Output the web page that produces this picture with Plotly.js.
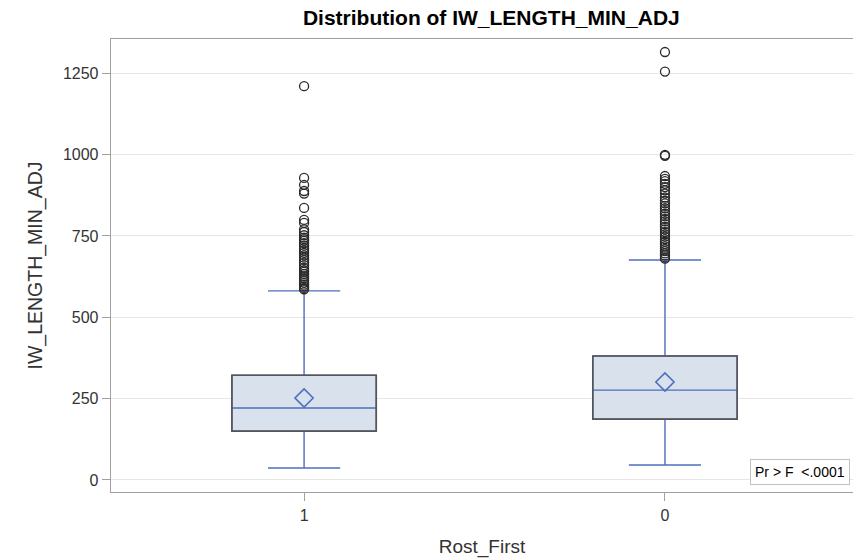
<!DOCTYPE html>
<html>
<head>
<meta charset="utf-8">
<script src="https://cdn.plot.ly/plotly-3.0.1.min.js"></script>
<style>html,body{margin:0;padding:0;background:#fff;}#chart{width:853px;height:558px;}</style>
</head>
<body>
<div id="chart"></div>
<script>
// Data
var categories = ['1', '0'];
var q1Values = [150, 187];
var medianValues = [221, 276];
var q3Values = [322, 381];
var lowerWhisker = [37, 46];
var upperWhisker = [581, 676];
var meanValues = [252, 301];
var outliers1 = [1210, 928, 907, 888, 880, 836, 799, 790, 770, 762, 752, 745, 740, 735, 728, 720, 712, 705, 698, 690, 683, 676, 668, 660, 652, 645, 640, 633, 626, 620, 613, 606, 600, 595, 590, 586];
var outliers0 = [1315, 1255, 999, 996, 934, 925, 918, 910, 900, 890, 880, 868, 858, 850, 842, 835, 826, 818, 810, 802, 795, 786, 778, 770, 762, 755, 748, 740, 732, 725, 718, 710, 703, 696, 690, 684, 680];
var yTicks = [0, 250, 500, 750, 1000, 1250];
var outlierSets = [outliers1, outliers0];

var blue = '#4d6fbe';
var traces = [];
var shapes = [];
var boxW = 0.4;
categories.forEach(function (c, i) {
  traces.push({
    type: 'box', x: [i], q1: [q1Values[i]], median: [medianValues[i]], q3: [q3Values[i]],
    lowerfence: [lowerWhisker[i]], upperfence: [upperWhisker[i]],
    width: boxW, whiskerwidth: 0.5, fillcolor: '#d9e1ec',
    line: {color: blue, width: 1.4}, boxpoints: false, hoverinfo: 'skip', showlegend: false
  });
  shapes.push({
    type: 'rect', xref: 'x', yref: 'y', x0: i - boxW / 2, x1: i + boxW / 2,
    y0: q1Values[i], y1: q3Values[i], line: {color: '#555555', width: 1.6}, layer: 'above'
  });
  traces.push({
    type: 'scatter', mode: 'markers', x: outlierSets[i].map(function () { return i; }), y: outlierSets[i],
    marker: {symbol: 'circle-open', size: 9, color: '#2a2a2a', line: {width: 1.3, color: '#2a2a2a'}},
    hoverinfo: 'skip', showlegend: false
  });
  traces.push({
    type: 'scatter', mode: 'markers', x: [i], y: [meanValues[i]],
    marker: {symbol: 'diamond-open', size: 14, color: blue, line: {width: 1.6, color: blue}},
    hoverinfo: 'skip', showlegend: false
  });
});

var layout = {
  width: 853, height: 558,
  margin: {l: 111, r: 0, t: 39, b: 66},
  paper_bgcolor: '#ffffff', plot_bgcolor: '#ffffff',
  font: {family: 'Liberation Sans, Arial, sans-serif', color: '#333333', size: 16},
  title: {text: '<b>Distribution of IW_LENGTH_MIN_ADJ</b>', xref: 'container', x: 0.576, xanchor: 'center',
    yref: 'container', y: 0.968, yanchor: 'middle', font: {size: 21, color: '#000000'}},
  xaxis: {
    range: [-0.535, 1.521], tickvals: [0, 1], ticktext: categories,
    showgrid: false, zeroline: false, showline: true, linecolor: '#a0a0a0', linewidth: 1.3, mirror: true,
    ticks: 'outside', ticklen: 8, tickcolor: '#a0a0a0', tickfont: {size: 16},
    title: {text: 'Rost_First', font: {size: 19, color: '#333333'}, standoff: 18}
  },
  yaxis: {
    range: [-36.9, 1355], tickvals: yTicks, ticktext: yTicks.map(String),
    showgrid: true, gridcolor: '#e6e6e6', gridwidth: 1, zeroline: false,
    showline: true, linecolor: '#a0a0a0', linewidth: 1.3, ticks: 'outside', ticklen: 8, tickcolor: '#a0a0a0',
    tickfont: {size: 16},
    title: {text: 'IW_LENGTH_MIN_ADJ', font: {size: 19.5, color: '#333333'}, standoff: 15}
  },
  shapes: shapes,
  annotations: [{
    text: 'Pr > F&nbsp;&nbsp;<.0001', xref: 'paper', yref: 'paper', x: 0.9965, y: 0.015,
    xanchor: 'right', yanchor: 'bottom', showarrow: false, font: {size: 14, color: '#000000'},
    bordercolor: '#c0c0c0', borderwidth: 1, borderpad: 4, bgcolor: '#ffffff'
  }]
};
Plotly.newPlot('chart', traces, layout, {displayModeBar: false, staticPlot: true});
</script>
</body>
</html>
